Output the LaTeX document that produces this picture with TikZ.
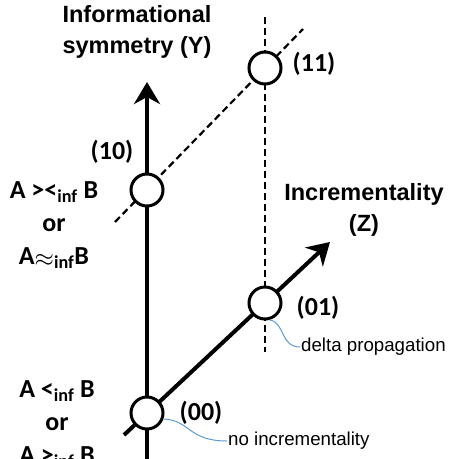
\documentclass[tikz,border=0pt]{standalone}
\usepackage{fontspec}
\setmainfont{Liberation Sans}
\newfontfamily\calfont{Carlito}
\usetikzlibrary{arrows.meta}
\definecolor{callblue}{RGB}{91,155,213}
\begin{document}
\begin{tikzpicture}[x=1pt, y=-1pt,
  axis/.style={line width=4pt, -{Stealth[length=22pt,width=26pt,inset=7pt]}},
  guide/.style={line width=2.2pt, dash pattern=on 7pt off 4pt},
  point/.style={circle, draw, line width=3pt, fill=white, minimum size=32pt, inner sep=0pt},
  title/.style={font=\fontsize{23.5}{31}\selectfont\bfseries, align=center},
  lbl/.style={font=\calfont\fontsize{26}{30}\selectfont\bfseries},
  rel/.style={font=\calfont\fontsize{26}{33}\selectfont\bfseries, align=center},
  note/.style={font=\fontsize{18.7}{22}\selectfont, anchor=west, inner sep=1pt},
  callout/.style={callblue, line width=1pt}]
\clip (0,0) rectangle (449,459);
% corners of the square
\coordinate (c00) at (147,413);
\coordinate (c01) at (265,303);
\coordinate (c10) at (147,190);
\coordinate (c11) at (265,68);
% axis ends
\coordinate (ylo) at (147,459);
\coordinate (ytip) at (147,82);
\coordinate (zlo) at (124,435);
\coordinate (ztip) at (330,242);
\coordinate (vtop) at (265,17);
\coordinate (vbot) at (265,352);
\coordinate (dlo) at (115,222);
\coordinate (dtop) at (303,29);
\draw[guide] (vtop) -- (vbot);
\draw[guide] (dlo) -- (dtop);
\draw[axis] (ylo) -- (ytip);
\draw[axis] (zlo) -- (ztip);
\node[point] (n00) at (c00) {};
\node[point] (n01) at (c01) {};
\node[point] (n10) at (c10) {};
\node[point] (n11) at (c11) {};
\node[lbl] (l00) at (201,413) {(00)};
\node[lbl] (l01) at (318,308) {(01)};
\node[lbl] (l10) at (112,152) {(10)};
\node[lbl] (l11) at (314,64) {(11)};
\node[title] (ty) at (137,32) {Informational\\symmetry (Y)};
\node[title] (tz) at (364,210) {Incrementality\\(Z)};
\node[rel] (r10) at (54,225) {A ><\textsubscript{inf} B\\or\\A\raisebox{-2pt}{$\approx$}\textsubscript{inf}B};
\node[rel] (r00) at (57,424) {A <\textsubscript{inf} B\\or\\A >\textsubscript{inf} B};
\node[note] (dnote) at (300,347) {delta propagation};
\node[note] (inote) at (227,441) {no incrementality};
\draw[callout] (n01.-75) .. controls (285,322) and (280,347) .. (dnote.west);
\draw[callout] (n00.-20) .. controls (190,420) and (188,441) .. (inote.west);
\end{tikzpicture}
\end{document}
